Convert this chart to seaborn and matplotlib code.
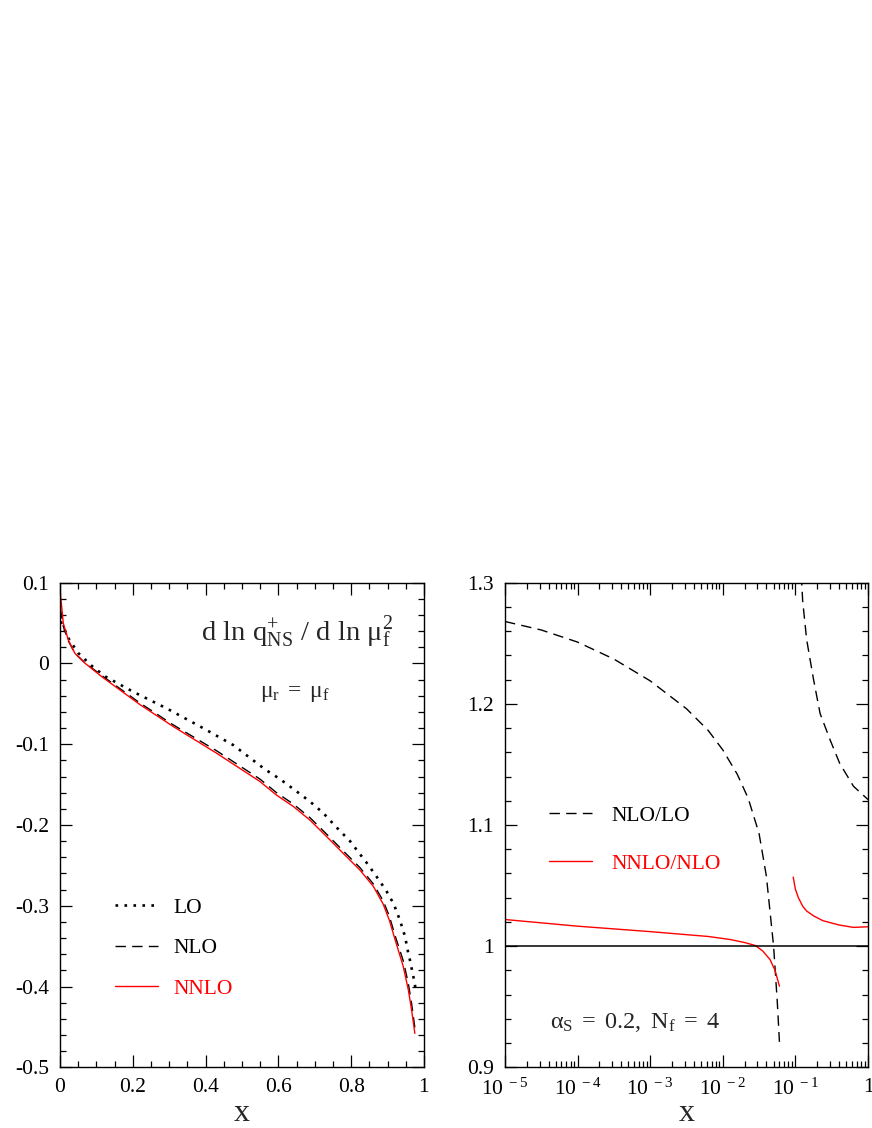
import matplotlib
matplotlib.use("Agg")
import matplotlib.pyplot as plt
import matplotlib.ticker as mticker
import seaborn as sns
import pandas as pd

# ---------------- data ----------------
# left panel: d ln q_NS^+ / d ln mu_f^2 vs x
lo_x = [0.002, 0.014, 0.025, 0.05, 0.087, 0.124, 0.201, 0.293, 0.385, 0.476,
        0.563, 0.604, 0.646, 0.687, 0.723, 0.760, 0.797, 0.824, 0.843, 0.870,
        0.896, 0.916, 0.925, 0.934, 0.948, 0.957, 0.963, 0.968, 0.973, 0.977]
lo_y = [0.052, 0.0406, 0.030, 0.013, -0.0028, -0.016, -0.035, -0.0556, -0.078, -0.101,
        -0.131, -0.143, -0.157, -0.171, -0.185, -0.203, -0.220, -0.236, -0.247, -0.264,
        -0.281, -0.297, -0.307, -0.318, -0.338, -0.359, -0.370, -0.382, -0.392, -0.403]

nlo_x = [0.001, 0.009, 0.023, 0.041, 0.069, 0.115, 0.22, 0.311, 0.43, 0.549,
         0.595, 0.641, 0.687, 0.733, 0.778, 0.824, 0.861, 0.888, 0.905, 0.920,
         0.943, 0.957, 0.966, 0.975]
nlo_y = [0.068, 0.046, 0.028, 0.0125, 0.0008, -0.0150, -0.049, -0.076, -0.108, -0.143,
         -0.160, -0.174, -0.191, -0.2115, -0.232, -0.2527, -0.273, -0.294, -0.313, -0.336,
         -0.368, -0.396, -0.421, -0.451]

nnlo_x = [0.001, 0.009, 0.023, 0.041, 0.069, 0.115, 0.22, 0.311, 0.43, 0.549,
          0.595, 0.641, 0.687, 0.733, 0.778, 0.824, 0.861, 0.888, 0.905, 0.920,
          0.943, 0.957, 0.966, 0.975]
nnlo_y = [0.087, 0.050, 0.029, 0.0126, 0.0002, -0.0164, -0.051, -0.078, -0.111, -0.146,
          -0.163, -0.177, -0.194, -0.2145, -0.235, -0.2557, -0.276, -0.298, -0.318, -0.341,
          -0.375, -0.404, -0.429, -0.458]

# right panel: ratios vs x (log scale)
nlo_lo_x1 = [1e-5, 3.16e-5, 1e-4, 3.16e-4, 1e-3, 3.16e-3, 6.31e-3, 1e-2, 1.58e-2,
             2.24e-2, 3.16e-2, 3.98e-2, 5.01e-2, 5.62e-2, 6.03e-2]
nlo_lo_y1 = [1.268, 1.261, 1.251, 1.237, 1.219, 1.196, 1.178, 1.162, 1.142,
             1.122, 1.093, 1.058, 1.000, 0.955, 0.921]
nlo_lo_x2 = [0.1175, 0.126, 0.143, 0.178, 0.219, 0.302, 0.407, 0.631, 1.0]
nlo_lo_y2 = [1.32, 1.285, 1.253, 1.220, 1.192, 1.170, 1.151, 1.132, 1.121]

nnlo_nlo_x1 = [1e-5, 1e-4, 1e-3, 3.16e-3, 6.31e-3, 1.26e-2, 2.0e-2, 2.82e-2,
               3.55e-2, 4.47e-2, 5.25e-2, 6.03e-2]
nnlo_nlo_y1 = [1.022, 1.0165, 1.012, 1.0095, 1.0080, 1.0055, 1.003, 1.0005,
               0.996, 0.989, 0.980, 0.967]
nnlo_nlo_x2 = [0.0933, 0.1, 0.110, 0.126, 0.143, 0.178, 0.240, 0.398, 0.631, 1.0]
nnlo_nlo_y2 = [1.057, 1.047, 1.040, 1.033, 1.029, 1.025, 1.021, 1.0175, 1.0155, 1.0160]

ref_level = 1.0

left_xticks = [0, 0.2, 0.4, 0.6, 0.8, 1]
left_xticklabels = ["0", "0.2", "0.4", "0.6", "0.8", "1"]
left_yticks = [-0.5, -0.4, -0.3, -0.2, -0.1, 0, 0.1]
left_yticklabels = ["-0.5", "-0.4", "-0.3", "-0.2", "-0.1", "0", "0.1"]
right_xticks = [1e-5, 1e-4, 1e-3, 1e-2, 1e-1, 1]
right_xticklabels = [r"$10^{\ -5}$", r"$10^{\ -4}$", r"$10^{\ -3}$",
                     r"$10^{\ -2}$", r"$10^{\ -1}$", "1"]
right_yticks = [0.9, 1.0, 1.1, 1.2, 1.3]
right_yticklabels = ["0.9", "1", "1.1", "1.2", "1.3"]

# ---------------- style ----------------
sns.set_style("ticks")
plt.rcParams["font.family"] = ["Liberation Serif", "DejaVu Serif"]
plt.rcParams["mathtext.fontset"] = "custom"
plt.rcParams["mathtext.rm"] = "Liberation Serif"
plt.rcParams["mathtext.it"] = "Liberation Serif"
plt.rcParams["mathtext.bf"] = "Liberation Serif:bold"
plt.rcParams["axes.linewidth"] = 1.0
plt.rcParams["axes.edgecolor"] = "black"

RED = "#ff0000"
FS = 15.5
DOT = (0, (1, 2.4))
DASH = (0, (7.5, 4.5))

fig = plt.figure(figsize=(8.72, 11.28), dpi=100)
ax1 = fig.add_axes([0.0688, 0.0538, 0.4174, 0.4296])
ax2 = fig.add_axes([0.5791, 0.0538, 0.4163, 0.4296])

def line(ax, xs, ys, **kw):
    df = pd.DataFrame({"x": xs, "y": ys})
    sns.lineplot(data=df, x="x", y="y", ax=ax, sort=False, estimator=None, **kw)

# ---- left panel ----
line(ax1, lo_x, lo_y, color="black", lw=1.9, linestyle=DOT, label="LO")
line(ax1, nlo_x, nlo_y, color="black", lw=1.0, linestyle=DASH, label="NLO")
line(ax1, nnlo_x, nnlo_y, color=RED, lw=1.0, linestyle="-", label="NNLO")

ax1.set_xlim(0, 1)
ax1.set_ylim(-0.5, 0.1)
ax1.set_xticks(left_xticks)
ax1.set_xticklabels(left_xticklabels)
ax1.set_yticks(left_yticks)
ax1.set_yticklabels(left_yticklabels)
ax1.xaxis.set_minor_locator(mticker.MultipleLocator(0.05))
ax1.yaxis.set_minor_locator(mticker.MultipleLocator(0.02))

leg1 = ax1.legend(loc="upper left", bbox_to_anchor=(0.151, 0.350), frameon=False,
                  fontsize=FS, handlelength=2.0, handletextpad=0.7,
                  labelspacing=0.95, borderpad=0, borderaxespad=0)
for t, c in zip(leg1.get_texts(), ["black", "black", RED]):
    t.set_color(c)

ax1.text(0.915, 0.88, r"$\mathrm{d\ ln\ q_{NS}^{+}\ /\ d\ ln\ \mu_f^{2}}$",
         transform=ax1.transAxes, ha="right", va="baseline", fontsize=20.5)
ax1.text(0.646, 0.764, r"$\mu_r\;=\;\mu_f$", transform=ax1.transAxes,
         ha="center", va="baseline", fontsize=17)

# ---- right panel ----
line(ax2, nlo_lo_x1, nlo_lo_y1, color="black", lw=1.0, linestyle=DASH, label="NLO/LO")
line(ax2, nnlo_nlo_x1, nnlo_nlo_y1, color=RED, lw=1.0, linestyle="-", label="NNLO/NLO")
line(ax2, nlo_lo_x2, nlo_lo_y2, color="black", lw=1.0, linestyle=DASH)
line(ax2, nnlo_nlo_x2, nnlo_nlo_y2, color=RED, lw=1.0, linestyle="-")
ax2.axhline(ref_level, color="black", lw=1.1)

ax2.set_xscale("log")
ax2.set_xlim(1e-5, 1)
ax2.set_ylim(0.9, 1.3)
ax2.xaxis.set_major_locator(mticker.FixedLocator(right_xticks))
ax2.xaxis.set_major_formatter(mticker.FixedFormatter(right_xticklabels))
ax2.xaxis.set_minor_locator(mticker.LogLocator(base=10, subs=range(2, 10), numticks=20))
ax2.xaxis.set_minor_formatter(mticker.NullFormatter())
ax2.set_yticks(right_yticks)
ax2.set_yticklabels(right_yticklabels)
ax2.yaxis.set_minor_locator(mticker.MultipleLocator(0.02))

handles, labels = ax2.get_legend_handles_labels()
leg2 = ax2.legend(handles[:2], labels[:2], loc="upper left", bbox_to_anchor=(0.121, 0.540),
                  frameon=False, fontsize=FS, handlelength=2.0, handletextpad=0.9,
                  labelspacing=1.29, borderpad=0, borderaxespad=0)
for t, c in zip(leg2.get_texts(), ["black", RED]):
    t.set_color(c)

ax2.text(0.124, 0.081, r"$\alpha_S\;=\;0.2,\ N_f\;=\;4$", transform=ax2.transAxes,
         ha="left", va="baseline", fontsize=17.5)

for ax in (ax1, ax2):
    ax.tick_params(which="both", direction="in", top=True, right=True,
                   width=0.9, colors="black", labelsize=FS, pad=8)
    ax.tick_params(which="major", length=8.5)
    ax.tick_params(which="minor", length=4.5)
    ax.set_xlabel("x", fontsize=23)
    ax.xaxis.set_label_coords(0.5, -0.066)
    ax.set_ylabel("")
    for s in ax.spines.values():
        s.set_visible(True)
        s.set_linewidth(1.0)

fig.savefig("out.png", dpi=100)
